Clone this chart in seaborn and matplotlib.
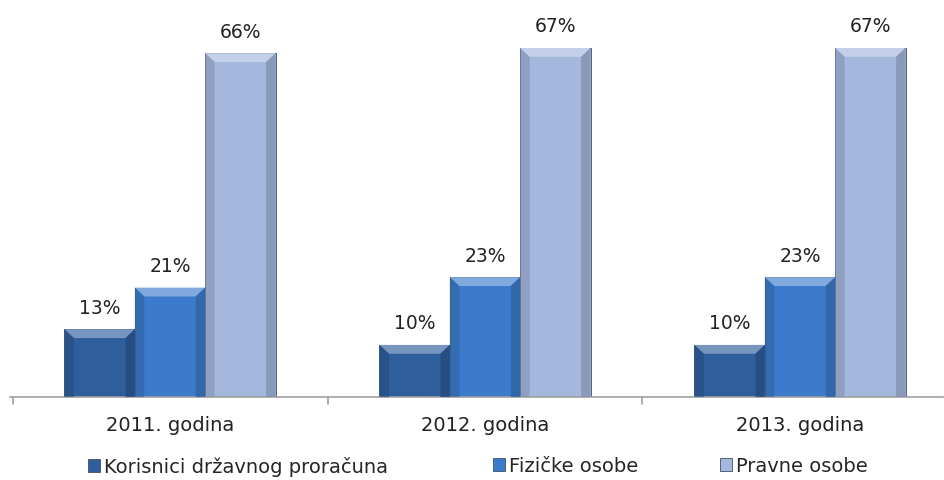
from matplotlib import pyplot as plt
from matplotlib.patches import Polygon
import matplotlib.colors as mcolors
import seaborn as sns
import pandas as pd

# Dados
godine = ['2011. godina', '2012. godina', '2013. godina']
korisnici = [13, 10, 10]
fizicke = [21, 23, 23]
pravne = [66, 67, 67]
serije = ['Korisnici državnog proračuna', 'Fizičke osobe', 'Pravne osobe']
boje = ['#2E5E9C', '#3C7BCB', '#A4B7DD']

df = pd.DataFrame({
    'godina': godine * 3,
    'serija': [serije[0]] * 3 + [serije[1]] * 3 + [serije[2]] * 3,
    'udio': korisnici + fizicke + pravne,
})

sns.set_style('white')
plt.rcParams['font.family'] = ['DejaVu Sans']

fig = plt.figure(figsize=(9.45, 4.81), dpi=100)
ax = fig.add_axes([10 / 945, 83 / 481, 933 / 945, 398 / 481])

sns.barplot(data=df, x='godina', y='udio', hue='serija', palette=boje,
            width=0.67, gap=0, edgecolor='#3f4f66', linewidth=0.6,
            saturation=1, ax=ax)

ax.set_ylim(0, 76.4)
ax.set_xlim(-0.508, 2.454)

# efekt kosih rubova (bevel) na stupcima
dx, dy = 0.03, 1.7
for p in ax.patches:
    x0, y0 = p.get_x(), p.get_y()
    w, h = p.get_width(), p.get_height()
    if h <= 0:
        continue
    boja = mcolors.to_rgb(p.get_facecolor())
    svijetla = [c + (1 - c) * 0.35 for c in boja]
    tamna = [c * 0.8 for c in boja]
    ax.add_patch(Polygon([(x0, y0 + h), (x0 + w, y0 + h), (x0 + w - dx, y0 + h - dy),
                          (x0 + dx, y0 + h - dy)], closed=True, fc=svijetla, ec='none', zorder=3))
    ax.add_patch(Polygon([(x0, y0), (x0 + dx, y0), (x0 + dx, y0 + h - dy), (x0, y0 + h)],
                         closed=True, fc=tamna, ec='none', alpha=0.6, zorder=3))
    ax.add_patch(Polygon([(x0 + w, y0), (x0 + w - dx, y0), (x0 + w - dx, y0 + h - dy), (x0 + w, y0 + h)],
                         closed=True, fc=tamna, ec='none', alpha=0.8, zorder=3))

for c in ax.containers:
    ax.bar_label(c, labels=[f'{v:.0f}%' for v in c.datavalues],
                 padding=9, fontsize=13.5, color='#222222')

ax.set_xlabel('')
ax.set_ylabel('')
ax.set_yticks([])
ax.tick_params(axis='x', labelsize=14, colors='#222222', length=0, pad=13)
for s in ['top', 'right', 'left']:
    ax.spines[s].set_visible(False)
ax.spines['bottom'].set_color('#a0a0a0')
ax.spines['bottom'].set_linewidth(1.2)

# oznake između grupa
for x in [-0.5, 0.5, 1.5]:
    ax.plot([x, x], [0, -1.3], color='#a0a0a0', lw=1.2, clip_on=False)

# legenda: svaka stavka na svom mjestu kao u predlošku
handles, labels = ax.get_legend_handles_labels()
ax.get_legend().remove()
for h, l, xpos in zip(handles, labels, [80, 485, 712]):
    fig.legend([h], [l], loc='center left', bbox_to_anchor=(xpos / 945, 14 / 481),
               frameon=False, fontsize=14, handlelength=0.65, handleheight=0.65,
               handletextpad=0.2, borderaxespad=0)

fig.savefig('out.png', dpi=100)
